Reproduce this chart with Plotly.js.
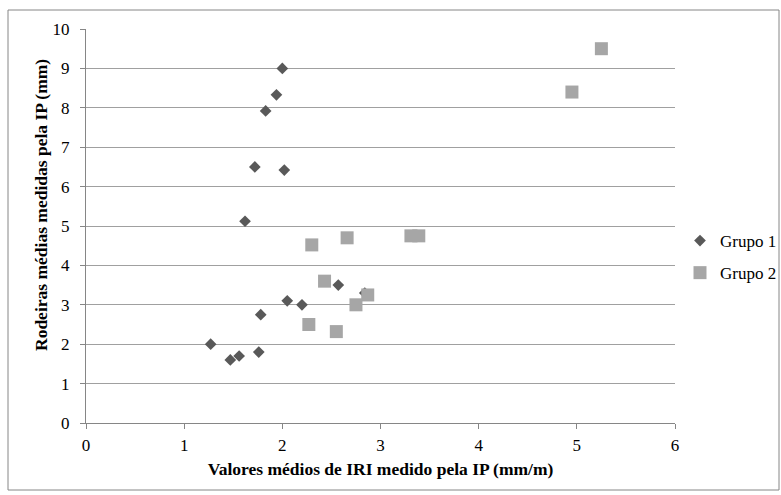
<!DOCTYPE html>
<html>
<head>
<meta charset="utf-8">
<script src="https://cdn.plot.ly/plotly-3.0.1.min.js"></script>
<style>
  html, body { margin: 0; padding: 0; background: #fff; }
  #chart { width: 781px; height: 495px; }
</style>
</head>
<body>
<div id="chart"></div>
<script>
// Grupo 1: mean IRI (mm/m) vs mean rut depth (mm)
const grupo1X = [2.00, 1.94, 1.83, 1.72, 2.02, 1.62, 2.57, 2.84, 2.05, 2.20, 1.78, 1.27, 1.47, 1.56, 1.76];
const grupo1Y = [9.00, 8.33, 7.92, 6.50, 6.42, 5.12, 3.50, 3.30, 3.10, 3.00, 2.75, 2.00, 1.60, 1.70, 1.80];

// Grupo 2
const grupo2X = [5.25, 4.95, 2.30, 2.66, 3.31, 3.39, 2.43, 2.87, 2.75, 2.27, 2.55];
const grupo2Y = [9.50, 8.40, 4.52, 4.70, 4.75, 4.75, 3.60, 3.25, 3.00, 2.50, 2.32];

const xTicks = [0, 1, 2, 3, 4, 5, 6];
const yTicks = [0, 1, 2, 3, 4, 5, 6, 7, 8, 9, 10];

const serif = 'Liberation Serif';

const traces = [
  {
    name: 'Grupo 1', legendgroup: 'g1',
    x: grupo1X, y: grupo1Y,
    type: 'scatter', mode: 'markers',
    marker: { symbol: 'diamond', size: 9, color: '#595959', line: { width: 0 } }
  },
  {
    name: 'Grupo 2', legendgroup: 'g2',
    x: grupo2X, y: grupo2Y,
    type: 'scatter', mode: 'markers',
    marker: { symbol: 'square', size: 13, color: '#a6a6a6', line: { width: 0 } }
  }
];

// plot area spans 86..675 px horizontally and 29..423 px vertically
const L = 86, R = 675, T = 29, B = 423;
const px = v => (v - L) / (R - L);
const py = v => (B - v) / (B - T);

const layout = {
  width: 781, height: 495,
  margin: { l: L, r: 781 - R, t: T, b: 495 - B, autoexpand: false },
  paper_bgcolor: '#ffffff',
  plot_bgcolor: '#ffffff',
  font: { family: serif, size: 17, color: '#000' },
  showlegend: true,
  legend: {
    x: px(680), xanchor: 'left', y: py(257), yanchor: 'middle',
    font: { family: serif, size: 17, color: '#000' },
    bgcolor: 'rgba(0,0,0,0)', traceorder: 'grouped', tracegroupgap: 7
  },
  xaxis: {
    range: [0, 6], tickvals: xTicks, ticktext: xTicks.map(String),
    showgrid: false, zeroline: false,
    showline: true, linecolor: '#868686', linewidth: 1,
    ticks: 'outside', ticklen: 5, tickcolor: '#868686',
    ticklabelstandoff: 2,
    tickfont: { family: serif, size: 17, color: '#000' },
    title: { text: '<b>Valores médios de IRI medido pela IP (mm/m)</b>', font: { family: serif, size: 17.5, color: '#000' }, standoff: 8 }
  },
  yaxis: {
    range: [0, 10], tickvals: yTicks, ticktext: yTicks.map(String),
    showgrid: true, gridcolor: '#a0a0a0', gridwidth: 1, zeroline: false,
    showline: true, linecolor: '#868686', linewidth: 1,
    ticks: 'outside', ticklen: 5, tickcolor: '#868686',
    ticklabelstandoff: 7,
    tickfont: { family: serif, size: 17, color: '#000' }
  },
  annotations: [
    {
      text: '<b>Rodeiras médias medidas pela IP (mm)</b>',
      xref: 'paper', yref: 'paper', x: px(41), y: py(205),
      xanchor: 'center', yanchor: 'middle', textangle: -90, showarrow: false,
      font: { family: serif, size: 17.5, color: '#000' }
    }
  ],
  shapes: [
    {
      type: 'rect', xref: 'paper', yref: 'paper',
      x0: px(8), x1: px(779), y0: py(490), y1: py(10),
      line: { color: '#868686', width: 1 }, fillcolor: 'rgba(0,0,0,0)', layer: 'below'
    }
  ]
};

Plotly.newPlot('chart', traces, layout, { displayModeBar: false, staticPlot: true });
</script>
</body>
</html>
